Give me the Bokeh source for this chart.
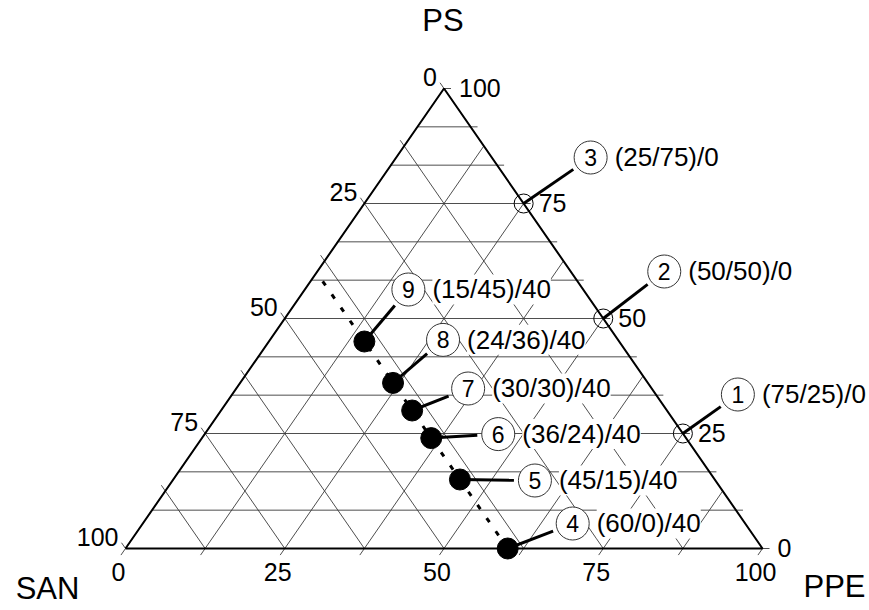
import numpy as np
from bokeh.plotting import figure
from bokeh.models import Range1d
from bokeh.core.properties import value
from bokeh.embed import file_html
from bokeh.resources import INLINE

# ---------------- data ----------------
sample_ids = ["1", "2", "3", "4", "5", "6", "7", "8", "9"]
ppe = [75, 50, 25, 60, 45, 36, 30, 24, 15]
ps = [25, 50, 75, 0, 15, 24, 30, 36, 45]
san = [0, 0, 0, 40, 40, 40, 40, 40, 40]
tick_values = [0, 25, 50, 75, 100]
san_line = 40
title_bottom_left = "SAN"
title_bottom_right = "PPE"
title_top = "PS"

# ---------------- layout ----------------
W, H = 869, 610
X0, XW = 125, 637      # screen x of SAN corner, base width in px
Y0, YH = 548, 460      # screen y of base, triangle height in px
callout_dx = [55, 61, 67, 65, 75, 67, 56, 50, 44]
callout_dy = [-39, -47, -46, -25, 1, -4, -22, -43, -52]
FONT = value("Liberation Sans")
BASE_FIX = -0.35       # empirical baseline correction (fraction of font size)


def yo(off, fs):
    return off + BASE_FIX * fs


def tern(a_ppe, a_ps):
    a_ppe = np.asarray(a_ppe, dtype=float)
    a_ps = np.asarray(a_ps, dtype=float)
    return (a_ppe + a_ps / 2) / 100.0, a_ps / 100.0


def pxd(dx, dy):
    # screen pixel offset (dy positive downward) -> data delta
    return np.asarray(dx, dtype=float) / XW, -np.asarray(dy, dtype=float) / YH


p = figure(width=W, height=H, output_backend="svg", toolbar_location=None,
           x_range=Range1d(-X0 / XW, (W - X0) / XW),
           y_range=Range1d(-(H - Y0) / YH, Y0 / YH),
           x_axis_type=None, y_axis_type=None, min_border=0)
p.outline_line_color = None
p.background_fill_color = "white"
p.border_fill_color = "white"

GRID = "#3a3a3a"
GW = 0.9

# horizontal grid lines (PS) with tick extension on the right edge
k = np.arange(0, 13)
v = k / 12.0
ext_r, _ = pxd(7, 0)
p.segment(x0=v / 2, y0=v, x1=1 - v / 2 + ext_r, y1=v, line_color=GRID, line_width=GW)

# constant-PPE lines (parallel to left edge), tick below the base
steps = np.arange(0, 9) * 12.5
P = steps / 100.0
ebx, eby = pxd(-0.569 * 8, 0.822 * 8)
p.segment(x0=P + ebx, y0=np.zeros_like(P) + eby, x1=P + (1 - P) / 2, y1=1 - P,
          line_color=GRID, line_width=GW)

# constant-SAN lines (parallel to right edge), tick beyond the left edge
S = steps / 100.0
elx, ely = pxd(-0.569 * 7, -0.822 * 7)
p.segment(x0=1 - S, y0=np.zeros_like(S), x1=(1 - S) / 2 + elx, y1=(1 - S) + ely,
          line_color=GRID, line_width=GW)

# triangle outline
tx, ty = tern([0, 100, 0, 0], [0, 0, 100, 0])
p.line(tx, ty, line_color="black", line_width=2)

# dotted SAN = 40 line
dx_, dy_ = tern([100 - san_line, 0], [0, 100 - san_line])
p.line(dx_, dy_, line_color="black", line_width=3, line_dash="5 11")

# markers and callouts
mx, my = tern(ppe, ps)
odx, ody = pxd(callout_dx, callout_dy)
cx, cy = mx + odx, my + ody

# leader lines, computed in screen space
ang = np.arctan2(np.asarray(callout_dy, float), np.asarray(callout_dx, float))
dist = np.hypot(callout_dx, callout_dy)
end_px = dist - 21
ex, ey = pxd(np.cos(ang) * end_px, np.sin(ang) * end_px)
p.segment(x0=mx, y0=my, x1=mx + ex, y1=my + ey, line_color="black", line_width=3)

san_arr = np.asarray(san)
open_mask = san_arr == 0
filled_mask = ~open_mask
p.scatter(mx[open_mask], my[open_mask], size=19, marker="circle",
          fill_color=None, line_color="black", line_width=1)
p.scatter(mx[filled_mask], my[filled_mask], size=21, marker="circle",
          fill_color="black", line_color="black")

# callout circles and numbers
p.scatter(cx, cy, size=33, marker="circle", fill_color="white",
          line_color="#333333", line_width=1)
p.text(x=cx, y=cy, text=sample_ids, text_font=FONT, text_font_size="23px",
       text_align="center", text_baseline="alphabetic", y_offset=yo(8, 23),
       text_color="black")

comp = [f"({a}/{b})/{c}" for a, b, c in zip(ppe, ps, san)]
p.text(x=cx, y=cy, text=comp, text_font=FONT, text_font_size="26px",
       text_align="left", text_baseline="alphabetic", x_offset=24, y_offset=yo(9, 26),
       text_color="black", background_fill_color="white")

# axis tick labels
tv = np.asarray(tick_values, float)
labels = [str(t) for t in tick_values]
# bottom (PPE)
bx, by = tern(tv, np.zeros_like(tv))
p.text(x=bx, y=by, text=labels, text_font=FONT, text_font_size="25px",
       text_align="center", text_baseline="alphabetic", x_offset=-7, y_offset=yo(32, 25))
# right (PS)
rx, ry = tern(100 - tv, tv)
p.text(x=rx, y=ry, text=labels, text_font=FONT, text_font_size="25px",
       text_align="left", text_baseline="alphabetic", x_offset=15, y_offset=yo(8.5, 25))
# left (SAN)
lx, ly = tern(np.zeros_like(tv), 100 - tv)
p.text(x=lx, y=ly, text=labels, text_font=FONT, text_font_size="25px",
       text_align="right", text_baseline="alphabetic", x_offset=-7, y_offset=yo(-3, 25))

# corner titles
ttx, tty = tern([0, 100, 0], [0, 0, 100])
p.text(x=[ttx[2]], y=[tty[2]], text=[title_top], text_font=FONT, text_font_size="31px",
       text_align="center", text_baseline="alphabetic", x_offset=-1, y_offset=yo(-57, 31))
p.text(x=[ttx[0]], y=[tty[0]], text=[title_bottom_left], text_font=FONT, text_font_size="31px",
       text_align="center", text_baseline="alphabetic", x_offset=-78, y_offset=yo(51, 31))
p.text(x=[ttx[1]], y=[tty[1]], text=[title_bottom_right], text_font=FONT, text_font_size="31px",
       text_align="center", text_baseline="alphabetic", x_offset=72, y_offset=yo(49, 31))

open("out.html", "w").write(file_html(p, INLINE))
